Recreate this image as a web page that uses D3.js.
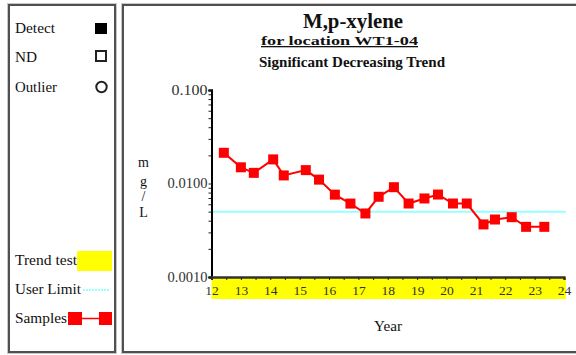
<!DOCTYPE html>
<html><head><meta charset="utf-8">
<script src="https://cdn.jsdelivr.net/npm/d3@7"></script>
<style>body{margin:0;background:#fff}svg{display:block}text{font-family:"Liberation Serif","DejaVu Serif","Times New Roman",serif}</style>
</head><body>
<svg id="c" width="576" height="355"></svg>
<script>
const years = [12.42,13.00,13.44,14.10,14.46,15.21,15.66,16.20,16.73,17.24,17.69,18.21,18.71,19.25,19.71,20.22,20.69,21.26,21.65,22.22,22.71,23.33];
const values = [0.0213,0.0149,0.0130,0.0181,0.0122,0.0139,0.0110,0.0076,0.0061,0.00478,0.00721,0.00913,0.00611,0.00692,0.00762,0.00611,0.00611,0.00365,0.00412,0.00436,0.00344,0.00344];
const userLimit = 0.005;
const xTicks = [12,13,14,15,16,17,18,19,20,21,22,23,24];
const yTicks = [0.001,0.01,0.1];
const yTickLabels = ["0.0010","0.0100","0.100"];
const titleLines = ["M,p-xylene","for location WT1-04","Significant Decreasing Trend"];
const legendTop = ["Detect","ND","Outlier"];
const legendBottom = ["Trend test","User Limit","Samples"];
const yLabel = ["m","g","/","L"];

const FONT = '"Liberation Serif","DejaVu Serif","Times New Roman",serif';
const svg = d3.select("#c");
function panel(x,y,w,h){
  svg.append("rect").attr("x",x).attr("y",y).attr("width",w).attr("height",h).attr("fill","none").attr("stroke","#c8c8c8").attr("stroke-width",1);
  svg.append("rect").attr("x",x+1.5).attr("y",y+1.5).attr("width",w-3).attr("height",h-3).attr("fill","none").attr("stroke","#505050").attr("stroke-width",2);
}
panel(7.5,3.5,109,350);
panel(121.5,3.5,460,350);

function txt(s,xp,yp,size,len,opts={}){
  const t = svg.append("text").attr("x",xp).attr("y",yp).attr("font-size",size).attr("font-family",FONT)
    .attr("fill",opts.fill||"#111").text(s);
  if (opts.bold) t.attr("font-weight","bold");
  if (opts.anchor) t.attr("text-anchor",opts.anchor);
  if (len) t.attr("textLength",len).attr("lengthAdjust","spacingAndGlyphs");
  return t;
}

const x = d3.scaleLinear().domain([12,24]).range([211.5,564]);
const y = d3.scaleLog().domain([0.001,0.1]).range([277,90]);

// trend band
svg.append("rect").attr("x",x(12)).attr("y",y(0.001)).attr("width",x(24)-x(12)+2).attr("height",22).attr("fill","#ffff00");

// user limit
svg.append("line").attr("x1",x(12)).attr("x2",x(24)+2).attr("y1",y(userLimit)).attr("y2",y(userLimit)).attr("stroke","#99ffff").attr("stroke-width",2);

// y axis
const yMinor = [];
for (let d=0.001; d<0.1; d*=10) for (let k=2;k<=9;k++) yMinor.push(d*k);
const yg = svg.append("g").attr("transform",`translate(${x(12)},0)`);
yg.call(d3.axisLeft(y).tickValues(yMinor).tickSize(3).tickFormat(""));
yg.append("g").call(d3.axisLeft(y).tickValues(yTicks).tickSize(3).tickFormat((d,i)=>yTickLabels[i]));
yg.selectAll("path.domain").attr("stroke","#000").attr("stroke-width",2);
yg.selectAll("line").attr("stroke","#222");
yg.selectAll("text").attr("font-size",14).attr("fill","#333").attr("font-family",FONT).attr("x",-4).attr("dy","0.3em")
  .attr("textLength",(d,i,n)=>d3.select(n[i]).text().length===6?40:36).attr("lengthAdjust","spacingAndGlyphs");

// x axis
const xMinor = d3.range(12.5,24,1);
const xg = svg.append("g").attr("transform",`translate(0,${y(0.001)})`);
xg.call(d3.axisBottom(x).tickValues(xMinor).tickSize(3).tickFormat(""));
xg.append("g").call(d3.axisBottom(x).tickValues(xTicks).tickSize(3).tickFormat(d3.format("d")));
xg.selectAll("path.domain").attr("stroke","#333").attr("stroke-width",2);
xg.selectAll("line").attr("stroke","#222");
xg.selectAll("text").attr("font-size",13.5).attr("fill","#333").attr("font-family",FONT).attr("y",8);

// series
const line = d3.line().x((d,i)=>x(years[i])).y(d=>y(d));
svg.append("path").datum(values).attr("d",line).attr("fill","none").attr("stroke","#ff0000").attr("stroke-width",2);
svg.selectAll("rect.pt").data(values).enter().append("rect").attr("class","pt")
  .attr("x",(d,i)=>x(years[i])-5).attr("y",d=>y(d)-5).attr("width",10).attr("height",10).attr("fill","#ff0000");

// titles
txt(titleLines[0],353,28,20,100,{bold:true,anchor:"middle"});
txt(titleLines[1],339.5,45,13,157,{bold:true,anchor:"middle"}).attr("text-decoration","underline");
txt(titleLines[2],352,67,14.5,186,{bold:true,anchor:"middle"});

// axis titles
txt("Year",388,331,15,28,{anchor:"middle"});
[167,186,201,217].forEach((yy,i)=>txt(yLabel[i],143.5,yy,14,null,{anchor:"middle"}));

// legend
[[33,40],[62,22],[92,42]].forEach((p,i)=>txt(legendTop[i],15,p[0],15,p[1]));
svg.append("rect").attr("x",95).attr("y",23).attr("width",12).attr("height",11).attr("fill","#000");
svg.append("rect").attr("x",96).attr("y",51).attr("width",10).attr("height",10).attr("fill","none").attr("stroke","#222").attr("stroke-width",2);
svg.append("circle").attr("cx",101.5).attr("cy",87).attr("r",5.2).attr("fill","none").attr("stroke","#222").attr("stroke-width",2);

[[265,62],[294,66],[323,52]].forEach((p,i)=>txt(legendBottom[i],15,p[0],15,p[1]));
svg.append("rect").attr("x",77).attr("y",251).attr("width",35).attr("height",20).attr("fill","#ffff00");
svg.append("line").attr("x1",83).attr("x2",110).attr("y1",290).attr("y2",290).attr("stroke","#99ffff").attr("stroke-width",2).attr("stroke-dasharray","2,1");
svg.append("line").attr("x1",75).attr("x2",105).attr("y1",318.5).attr("y2",318.5).attr("stroke","#ff0000").attr("stroke-width",1.5);
svg.append("rect").attr("x",68).attr("y",312).attr("width",14).attr("height",13).attr("fill","#ff0000");
svg.append("rect").attr("x",99).attr("y",312).attr("width",13).attr("height",13).attr("fill","#ff0000");
</script>
</body></html>
